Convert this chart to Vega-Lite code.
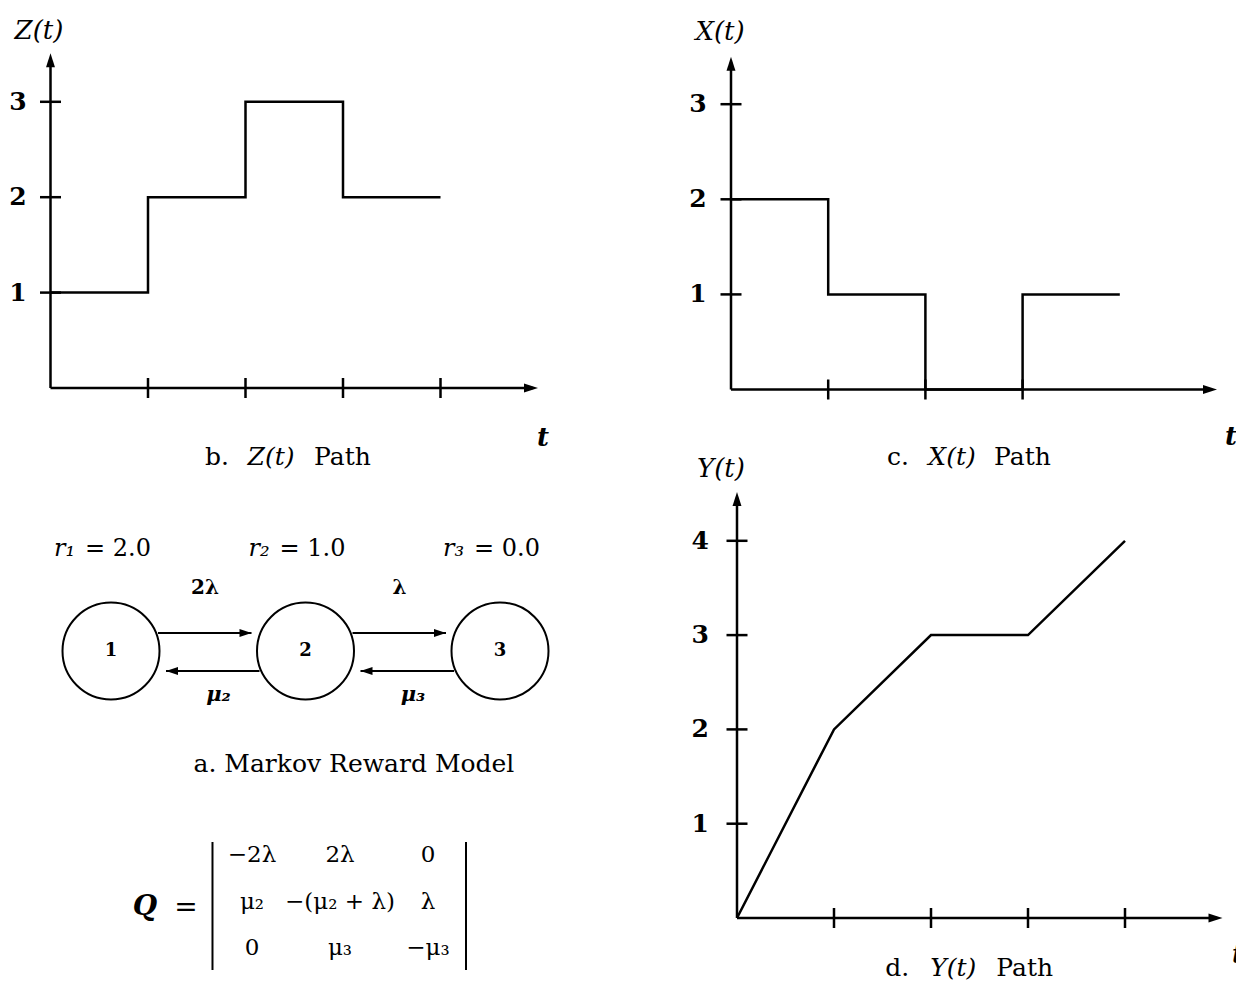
{
"$schema": "https://vega.github.io/schema/vega-lite/v6.json",
"width": 1236, "height": 985,
"autosize": {"type": "none"},
"padding": 0,
"background": "white",
"config": {"view": {"stroke": null}, "font": "DejaVu Serif", "axis": {"disable": true}, "legend": {"disable": true}, "text": {"font": "DejaVu Serif", "color": "black"}},
"datasets": {
  "zpath": [{"t":0,"z":1},{"t":1,"z":2},{"t":2,"z":3},{"t":3,"z":2},{"t":4,"z":2}],
  "xpath": [{"t":0,"x":2},{"t":1,"x":1},{"t":2,"x":0},{"t":3,"x":1},{"t":4,"x":1}],
  "ypath": [{"t":0,"y":0},{"t":1,"y":2},{"t":2,"y":3},{"t":3,"y":3},{"t":4,"y":4}],
  "nodes": [{"n":1,"rsym":"r₁","rval":"= 2.0"},{"n":2,"rsym":"r₂","rval":"= 1.0"},{"n":3,"rsym":"r₃","rval":"= 0.0"}],
  "edges": [{"from":1,"to":2,"rate":"2λ","dir":"fwd"},{"from":2,"to":3,"rate":"λ","dir":"fwd"},{"from":2,"to":1,"rate":"μ₂","dir":"back"},{"from":3,"to":2,"rate":"μ₃","dir":"back"}],
  "matrix": [{"row":1,"col":1,"e":"−2λ"},{"row":1,"col":2,"e":"2λ"},{"row":1,"col":3,"e":"0"},{"row":2,"col":1,"e":"μ₂"},{"row":2,"col":2,"e":"−(μ₂ + λ)"},{"row":2,"col":3,"e":"λ"},{"row":3,"col":1,"e":"0"},{"row":3,"col":2,"e":"μ₃"},{"row":3,"col":3,"e":"−μ₃"}]
},
"layer": [
 {"layer": [
  {"data": {"values": [{}]}, "mark": {"type": "rule", "color": "black", "strokeWidth": 2.5},
   "encoding": {"x": {"datum": 0, "type": "quantitative", "scale": {"domain":[0,5],"range":[50.5,538],"nice":false,"zero":false}}, "y": {"datum": 0, "type": "quantitative", "scale": {"domain":[0,3.5],"range":[388,54.1],"nice":false,"zero":false}}, "y2": {"datum": 3.45}}},
  {"data": {"values": [{}]}, "mark": {"type": "rule", "color": "black", "strokeWidth": 2.5},
   "encoding": {"x": {"datum": 0, "type": "quantitative", "scale": {"domain":[0,5],"range":[50.5,538],"nice":false,"zero":false}}, "x2": {"datum": 4.95}, "y": {"datum": 0, "type": "quantitative", "scale": {"domain":[0,3.5],"range":[388,54.1],"nice":false,"zero":false}}}},
  {"data": {"values": [{}]}, "mark": {"type": "point", "shape": "M0,0L0.32,1L-0.32,1Z", "size": 784, "filled": true, "color": "black", "opacity": 1, "strokeWidth": 0},
   "encoding": {"x": {"datum": 0, "type": "quantitative", "scale": {"domain":[0,5],"range":[50.5,538],"nice":false,"zero":false}}, "y": {"datum": 3.51, "type": "quantitative", "scale": {"domain":[0,3.5],"range":[388,54.1],"nice":false,"zero":false}}}},
  {"data": {"values": [{}]}, "mark": {"type": "point", "shape": "M0,0L-1,0.32L-1,-0.32Z", "size": 784, "filled": true, "color": "black", "opacity": 1, "strokeWidth": 0},
   "encoding": {"x": {"datum": 5.0, "type": "quantitative", "scale": {"domain":[0,5],"range":[50.5,538],"nice":false,"zero":false}}, "y": {"datum": 0, "type": "quantitative", "scale": {"domain":[0,3.5],"range":[388,54.1],"nice":false,"zero":false}}}},
  {"data": {"values": [{"t":1},{"t":2},{"t":3},{"t":4}]}, "mark": {"type": "tick", "orient": "vertical", "size": 20, "thickness": 2.5, "color": "black", "opacity": 1},
   "encoding": {"x": {"field": "t", "type": "quantitative", "scale": {"domain":[0,5],"range":[50.5,538],"nice":false,"zero":false}}, "y": {"datum": 0, "type": "quantitative", "scale": {"domain":[0,3.5],"range":[388,54.1],"nice":false,"zero":false}}}},
  {"data": {"values": [{"v":1},{"v":2},{"v":3}]}, "mark": {"type": "tick", "orient": "horizontal", "size": 21, "thickness": 2.5, "color": "black", "opacity": 1},
   "encoding": {"x": {"datum": 0, "type": "quantitative", "scale": {"domain":[0,5],"range":[50.5,538],"nice":false,"zero":false}}, "y": {"field": "v", "type": "quantitative", "scale": {"domain":[0,3.5],"range":[388,54.1],"nice":false,"zero":false}}}},
  {"data": {"values": [{"v":1},{"v":2},{"v":3}]}, "mark": {"type": "text", "fontWeight": "bold", "fontSize": 25},
   "encoding": {"x": {"datum": -0.333, "type": "quantitative", "scale": {"domain":[0,5],"range":[50.5,538],"nice":false,"zero":false}}, "y": {"field": "v", "type": "quantitative", "scale": {"domain":[0,3.5],"range":[388,54.1],"nice":false,"zero":false}}, "text": {"field": "v"}}},
  {"data": {"name": "zpath"}, "mark": {"type": "line", "interpolate": "step-after", "color": "black", "strokeWidth": 2.5},
   "encoding": {"x": {"field": "t", "type": "quantitative", "scale": {"domain":[0,5],"range":[50.5,538],"nice":false,"zero":false}}, "y": {"field": "z", "type": "quantitative", "scale": {"domain":[0,3.5],"range":[388,54.1],"nice":false,"zero":false}}}},
  {"data": {"values": [{"lab":"Z(t)"}]}, "mark": {"type": "text", "fontStyle": "italic", "fontSize": 26},
   "encoding": {"x": {"datum": -0.118, "type": "quantitative", "scale": {"domain":[0,5],"range":[50.5,538],"nice":false,"zero":false}}, "y": {"datum": 3.742, "type": "quantitative", "scale": {"domain":[0,3.5],"range":[388,54.1],"nice":false,"zero":false}}, "text": {"field": "lab"}}},
  {"data": {"values": [{"lab":"t"}]}, "mark": {"type": "text", "fontStyle": "italic", "fontWeight": "bold", "fontSize": 26},
   "encoding": {"x": {"datum": 5.05, "type": "quantitative", "scale": {"domain":[0,5],"range":[50.5,538],"nice":false,"zero":false}}, "y": {"datum": -0.524, "type": "quantitative", "scale": {"domain":[0,3.5],"range":[388,54.1],"nice":false,"zero":false}}, "text": {"field": "lab"}}},
  {"data": {"values": [{"p":"b.","v":"Z(t)","s":"Path"}]}, "mark": {"type": "text", "fontSize": 25, "align": "right", "dx": -42},
   "encoding": {"x": {"datum": 2.262, "type": "quantitative", "scale": {"domain":[0,5],"range":[50.5,538],"nice":false,"zero":false}}, "y": {"datum": -0.723, "type": "quantitative", "scale": {"domain":[0,3.5],"range":[388,54.1],"nice":false,"zero":false}}, "text": {"field": "p"}}},
  {"data": {"values": [{"p":"b.","v":"Z(t)","s":"Path"}]}, "mark": {"type": "text", "fontSize": 25, "fontStyle": "italic", "align": "center"},
   "encoding": {"x": {"datum": 2.262, "type": "quantitative", "scale": {"domain":[0,5],"range":[50.5,538],"nice":false,"zero":false}}, "y": {"datum": -0.723, "type": "quantitative", "scale": {"domain":[0,3.5],"range":[388,54.1],"nice":false,"zero":false}}, "text": {"field": "v"}}},
  {"data": {"values": [{"p":"b.","v":"Z(t)","s":"Path"}]}, "mark": {"type": "text", "fontSize": 25, "align": "left", "dx": 43},
   "encoding": {"x": {"datum": 2.262, "type": "quantitative", "scale": {"domain":[0,5],"range":[50.5,538],"nice":false,"zero":false}}, "y": {"datum": -0.723, "type": "quantitative", "scale": {"domain":[0,3.5],"range":[388,54.1],"nice":false,"zero":false}}, "text": {"field": "s"}}}
 ]},
 {"layer": [
  {"data": {"values": [{}]}, "mark": {"type": "rule", "color": "black", "strokeWidth": 2.5},
   "encoding": {"x": {"datum": 0, "type": "quantitative", "scale": {"domain":[0,5],"range":[731,1217],"nice":false,"zero":false}}, "y": {"datum": 0, "type": "quantitative", "scale": {"domain":[0,3.5],"range":[389.5,56.65],"nice":false,"zero":false}}, "y2": {"datum": 3.44}}},
  {"data": {"values": [{}]}, "mark": {"type": "rule", "color": "black", "strokeWidth": 2.5},
   "encoding": {"x": {"datum": 0, "type": "quantitative", "scale": {"domain":[0,5],"range":[731,1217],"nice":false,"zero":false}}, "x2": {"datum": 4.95}, "y": {"datum": 0, "type": "quantitative", "scale": {"domain":[0,3.5],"range":[389.5,56.65],"nice":false,"zero":false}}}},
  {"data": {"values": [{}]}, "mark": {"type": "point", "shape": "M0,0L0.32,1L-0.32,1Z", "size": 784, "filled": true, "color": "black", "opacity": 1, "strokeWidth": 0},
   "encoding": {"x": {"datum": 0, "type": "quantitative", "scale": {"domain":[0,5],"range":[731,1217],"nice":false,"zero":false}}, "y": {"datum": 3.5, "type": "quantitative", "scale": {"domain":[0,3.5],"range":[389.5,56.65],"nice":false,"zero":false}}}},
  {"data": {"values": [{}]}, "mark": {"type": "point", "shape": "M0,0L-1,0.32L-1,-0.32Z", "size": 784, "filled": true, "color": "black", "opacity": 1, "strokeWidth": 0},
   "encoding": {"x": {"datum": 5.0, "type": "quantitative", "scale": {"domain":[0,5],"range":[731,1217],"nice":false,"zero":false}}, "y": {"datum": 0, "type": "quantitative", "scale": {"domain":[0,3.5],"range":[389.5,56.65],"nice":false,"zero":false}}}},
  {"data": {"values": [{"t":1},{"t":2},{"t":3}]}, "mark": {"type": "tick", "orient": "vertical", "size": 20, "thickness": 2.5, "color": "black", "opacity": 1},
   "encoding": {"x": {"field": "t", "type": "quantitative", "scale": {"domain":[0,5],"range":[731,1217],"nice":false,"zero":false}}, "y": {"datum": 0, "type": "quantitative", "scale": {"domain":[0,3.5],"range":[389.5,56.65],"nice":false,"zero":false}}}},
  {"data": {"values": [{"v":1},{"v":2},{"v":3}]}, "mark": {"type": "tick", "orient": "horizontal", "size": 21, "thickness": 2.5, "color": "black", "opacity": 1},
   "encoding": {"x": {"datum": 0, "type": "quantitative", "scale": {"domain":[0,5],"range":[731,1217],"nice":false,"zero":false}}, "y": {"field": "v", "type": "quantitative", "scale": {"domain":[0,3.5],"range":[389.5,56.65],"nice":false,"zero":false}}}},
  {"data": {"values": [{"v":1},{"v":2},{"v":3}]}, "mark": {"type": "text", "fontWeight": "bold", "fontSize": 25},
   "encoding": {"x": {"datum": -0.34, "type": "quantitative", "scale": {"domain":[0,5],"range":[731,1217],"nice":false,"zero":false}}, "y": {"field": "v", "type": "quantitative", "scale": {"domain":[0,3.5],"range":[389.5,56.65],"nice":false,"zero":false}}, "text": {"field": "v"}}},
  {"data": {"name": "xpath"}, "mark": {"type": "line", "interpolate": "step-after", "color": "black", "strokeWidth": 2.5},
   "encoding": {"x": {"field": "t", "type": "quantitative", "scale": {"domain":[0,5],"range":[731,1217],"nice":false,"zero":false}}, "y": {"field": "x", "type": "quantitative", "scale": {"domain":[0,3.5],"range":[389.5,56.65],"nice":false,"zero":false}}}},
  {"data": {"values": [{"lab":"X(t)"}]}, "mark": {"type": "text", "fontStyle": "italic", "fontSize": 26},
   "encoding": {"x": {"datum": -0.113, "type": "quantitative", "scale": {"domain":[0,5],"range":[731,1217],"nice":false,"zero":false}}, "y": {"datum": 3.76, "type": "quantitative", "scale": {"domain":[0,3.5],"range":[389.5,56.65],"nice":false,"zero":false}}, "text": {"field": "lab"}}},
  {"data": {"values": [{"lab":"t"}]}, "mark": {"type": "text", "fontStyle": "italic", "fontWeight": "bold", "fontSize": 26},
   "encoding": {"x": {"datum": 5.144, "type": "quantitative", "scale": {"domain":[0,5],"range":[731,1217],"nice":false,"zero":false}}, "y": {"datum": -0.5, "type": "quantitative", "scale": {"domain":[0,3.5],"range":[389.5,56.65],"nice":false,"zero":false}}, "text": {"field": "lab"}}},
  {"data": {"values": [{"p":"c.","v":"X(t)","s":"Path"}]}, "mark": {"type": "text", "fontSize": 25, "align": "right", "dx": -43},
   "encoding": {"x": {"datum": 2.274, "type": "quantitative", "scale": {"domain":[0,5],"range":[731,1217],"nice":false,"zero":false}}, "y": {"datum": -0.71, "type": "quantitative", "scale": {"domain":[0,3.5],"range":[389.5,56.65],"nice":false,"zero":false}}, "text": {"field": "p"}}},
  {"data": {"values": [{"p":"c.","v":"X(t)","s":"Path"}]}, "mark": {"type": "text", "fontSize": 25, "fontStyle": "italic", "align": "center"},
   "encoding": {"x": {"datum": 2.274, "type": "quantitative", "scale": {"domain":[0,5],"range":[731,1217],"nice":false,"zero":false}}, "y": {"datum": -0.71, "type": "quantitative", "scale": {"domain":[0,3.5],"range":[389.5,56.65],"nice":false,"zero":false}}, "text": {"field": "v"}}},
  {"data": {"values": [{"p":"c.","v":"X(t)","s":"Path"}]}, "mark": {"type": "text", "fontSize": 25, "align": "left", "dx": 42},
   "encoding": {"x": {"datum": 2.274, "type": "quantitative", "scale": {"domain":[0,5],"range":[731,1217],"nice":false,"zero":false}}, "y": {"datum": -0.71, "type": "quantitative", "scale": {"domain":[0,3.5],"range":[389.5,56.65],"nice":false,"zero":false}}, "text": {"field": "s"}}}
 ]},
 {"layer": [
  {"data": {"values": [{}]}, "mark": {"type": "rule", "color": "black", "strokeWidth": 2.5},
   "encoding": {"x": {"datum": 0, "type": "quantitative", "scale": {"domain":[0,5],"range":[737,1222],"nice":false,"zero":false}}, "y": {"datum": 0, "type": "quantitative", "scale": {"domain":[0,4.5],"range":[918,493.65],"nice":false,"zero":false}}, "y2": {"datum": 4.45}}},
  {"data": {"values": [{}]}, "mark": {"type": "rule", "color": "black", "strokeWidth": 2.5},
   "encoding": {"x": {"datum": 0, "type": "quantitative", "scale": {"domain":[0,5],"range":[737,1222],"nice":false,"zero":false}}, "x2": {"datum": 4.95}, "y": {"datum": 0, "type": "quantitative", "scale": {"domain":[0,4.5],"range":[918,493.65],"nice":false,"zero":false}}}},
  {"data": {"values": [{}]}, "mark": {"type": "point", "shape": "M0,0L0.32,1L-0.32,1Z", "size": 784, "filled": true, "color": "black", "opacity": 1, "strokeWidth": 0},
   "encoding": {"x": {"datum": 0, "type": "quantitative", "scale": {"domain":[0,5],"range":[737,1222],"nice":false,"zero":false}}, "y": {"datum": 4.517, "type": "quantitative", "scale": {"domain":[0,4.5],"range":[918,493.65],"nice":false,"zero":false}}}},
  {"data": {"values": [{}]}, "mark": {"type": "point", "shape": "M0,0L-1,0.32L-1,-0.32Z", "size": 784, "filled": true, "color": "black", "opacity": 1, "strokeWidth": 0},
   "encoding": {"x": {"datum": 5.005, "type": "quantitative", "scale": {"domain":[0,5],"range":[737,1222],"nice":false,"zero":false}}, "y": {"datum": 0, "type": "quantitative", "scale": {"domain":[0,4.5],"range":[918,493.65],"nice":false,"zero":false}}}},
  {"data": {"values": [{"t":1},{"t":2},{"t":3},{"t":4}]}, "mark": {"type": "tick", "orient": "vertical", "size": 20, "thickness": 2.5, "color": "black", "opacity": 1},
   "encoding": {"x": {"field": "t", "type": "quantitative", "scale": {"domain":[0,5],"range":[737,1222],"nice":false,"zero":false}}, "y": {"datum": 0, "type": "quantitative", "scale": {"domain":[0,4.5],"range":[918,493.65],"nice":false,"zero":false}}}},
  {"data": {"values": [{"v":1},{"v":2},{"v":3},{"v":4}]}, "mark": {"type": "tick", "orient": "horizontal", "size": 21, "thickness": 2.5, "color": "black", "opacity": 1},
   "encoding": {"x": {"datum": 0, "type": "quantitative", "scale": {"domain":[0,5],"range":[737,1222],"nice":false,"zero":false}}, "y": {"field": "v", "type": "quantitative", "scale": {"domain":[0,4.5],"range":[918,493.65],"nice":false,"zero":false}}}},
  {"data": {"values": [{"v":1},{"v":2},{"v":3},{"v":4}]}, "mark": {"type": "text", "fontWeight": "bold", "fontSize": 25},
   "encoding": {"x": {"datum": -0.38, "type": "quantitative", "scale": {"domain":[0,5],"range":[737,1222],"nice":false,"zero":false}}, "y": {"field": "v", "type": "quantitative", "scale": {"domain":[0,4.5],"range":[918,493.65],"nice":false,"zero":false}}, "text": {"field": "v"}}},
  {"data": {"name": "ypath"}, "mark": {"type": "line", "color": "black", "strokeWidth": 2.5},
   "encoding": {"x": {"field": "t", "type": "quantitative", "scale": {"domain":[0,5],"range":[737,1222],"nice":false,"zero":false}}, "y": {"field": "y", "type": "quantitative", "scale": {"domain":[0,4.5],"range":[918,493.65],"nice":false,"zero":false}}}},
  {"data": {"values": [{"lab":"Y(t)"}]}, "mark": {"type": "text", "fontStyle": "italic", "fontSize": 26},
   "encoding": {"x": {"datum": -0.165, "type": "quantitative", "scale": {"domain":[0,5],"range":[737,1222],"nice":false,"zero":false}}, "y": {"datum": 4.76, "type": "quantitative", "scale": {"domain":[0,4.5],"range":[918,493.65],"nice":false,"zero":false}}, "text": {"field": "lab"}}},
  {"data": {"values": [{"lab":"t"}]}, "mark": {"type": "text", "fontStyle": "italic", "fontWeight": "bold", "fontSize": 26},
   "encoding": {"x": {"datum": 5.165, "type": "quantitative", "scale": {"domain":[0,5],"range":[737,1222],"nice":false,"zero":false}}, "y": {"datum": -0.39, "type": "quantitative", "scale": {"domain":[0,4.5],"range":[918,493.65],"nice":false,"zero":false}}, "text": {"field": "lab"}}},
  {"data": {"values": [{"p":"d.","v":"Y(t)","s":"Path"}]}, "mark": {"type": "text", "fontSize": 25, "align": "right", "dx": -44},
   "encoding": {"x": {"datum": 2.23, "type": "quantitative", "scale": {"domain":[0,5],"range":[737,1222],"nice":false,"zero":false}}, "y": {"datum": -0.53, "type": "quantitative", "scale": {"domain":[0,4.5],"range":[918,493.65],"nice":false,"zero":false}}, "text": {"field": "p"}}},
  {"data": {"values": [{"p":"d.","v":"Y(t)","s":"Path"}]}, "mark": {"type": "text", "fontSize": 25, "fontStyle": "italic", "align": "center"},
   "encoding": {"x": {"datum": 2.23, "type": "quantitative", "scale": {"domain":[0,5],"range":[737,1222],"nice":false,"zero":false}}, "y": {"datum": -0.53, "type": "quantitative", "scale": {"domain":[0,4.5],"range":[918,493.65],"nice":false,"zero":false}}, "text": {"field": "v"}}},
  {"data": {"values": [{"p":"d.","v":"Y(t)","s":"Path"}]}, "mark": {"type": "text", "fontSize": 25, "align": "left", "dx": 43},
   "encoding": {"x": {"datum": 2.23, "type": "quantitative", "scale": {"domain":[0,5],"range":[737,1222],"nice":false,"zero":false}}, "y": {"datum": -0.53, "type": "quantitative", "scale": {"domain":[0,4.5],"range":[918,493.65],"nice":false,"zero":false}}, "text": {"field": "s"}}}
 ]},
 {"layer": [
  {"data": {"name": "nodes"}, "mark": {"type": "point", "shape": "circle", "size": 9409, "filled": false, "color": "black", "strokeWidth": 2, "opacity": 1},
   "encoding": {"x": {"field": "n", "type": "quantitative", "scale": {"domain":[1,3],"range":[111,500],"nice":false,"zero":false}}, "y": {"datum": 0, "type": "quantitative", "scale": {"domain":[-1,1],"range":[751,551],"nice":false,"zero":false}}}},
  {"data": {"name": "nodes"}, "mark": {"type": "text", "fontWeight": "bold", "fontSize": 18},
   "encoding": {"x": {"field": "n", "type": "quantitative", "scale": {"domain":[1,3],"range":[111,500],"nice":false,"zero":false}}, "y": {"datum": 0, "type": "quantitative", "scale": {"domain":[-1,1],"range":[751,551],"nice":false,"zero":false}}, "text": {"field": "n"}}},
  {"data": {"name": "nodes"}, "mark": {"type": "text", "fontStyle": "italic", "fontSize": 24, "align": "right", "dx": -36},
   "encoding": {"x": {"field": "n", "type": "quantitative", "scale": {"domain":[1,3],"range":[111,500],"nice":false,"zero":false}}, "y": {"datum": 1.02, "type": "quantitative", "scale": {"domain":[-1,1],"range":[751,551],"nice":false,"zero":false}}, "text": {"field": "rsym"}}},
  {"data": {"name": "nodes"}, "mark": {"type": "text", "fontSize": 24, "align": "left", "dx": -26},
   "encoding": {"x": {"field": "n", "type": "quantitative", "scale": {"domain":[1,3],"range":[111,500],"nice":false,"zero":false}}, "y": {"datum": 1.02, "type": "quantitative", "scale": {"domain":[-1,1],"range":[751,551],"nice":false,"zero":false}}, "text": {"field": "rval"}}},
  {"data": {"name": "edges"}, "transform": [{"filter": "datum.dir == 'fwd'"}], "mark": {"type": "rule", "color": "black", "strokeWidth": 2, "xOffset": 47, "x2Offset": -54, "yOffset": -18},
   "encoding": {"x": {"field": "from", "type": "quantitative", "scale": {"domain":[1,3],"range":[111,500],"nice":false,"zero":false}}, "x2": {"field": "to"}, "y": {"datum": 0, "type": "quantitative", "scale": {"domain":[-1,1],"range":[751,551],"nice":false,"zero":false}}}},
  {"data": {"name": "edges"}, "transform": [{"filter": "datum.dir == 'fwd'"}], "mark": {"type": "point", "shape": "M0,0L-1,0.33L-1,-0.33Z", "size": 576, "filled": true, "color": "black", "opacity": 1, "strokeWidth": 0, "xOffset": -54, "yOffset": -18},
   "encoding": {"x": {"field": "to", "type": "quantitative", "scale": {"domain":[1,3],"range":[111,500],"nice":false,"zero":false}}, "y": {"datum": 0, "type": "quantitative", "scale": {"domain":[-1,1],"range":[751,551],"nice":false,"zero":false}}}},
  {"data": {"name": "edges"}, "transform": [{"filter": "datum.dir == 'back'"}], "mark": {"type": "rule", "color": "black", "strokeWidth": 2, "xOffset": -46, "x2Offset": 55, "yOffset": 20},
   "encoding": {"x": {"field": "from", "type": "quantitative", "scale": {"domain":[1,3],"range":[111,500],"nice":false,"zero":false}}, "x2": {"field": "to"}, "y": {"datum": 0, "type": "quantitative", "scale": {"domain":[-1,1],"range":[751,551],"nice":false,"zero":false}}}},
  {"data": {"name": "edges"}, "transform": [{"filter": "datum.dir == 'back'"}], "mark": {"type": "point", "shape": "M0,0L1,0.33L1,-0.33Z", "size": 576, "filled": true, "color": "black", "opacity": 1, "strokeWidth": 0, "xOffset": 55, "yOffset": 20},
   "encoding": {"x": {"field": "to", "type": "quantitative", "scale": {"domain":[1,3],"range":[111,500],"nice":false,"zero":false}}, "y": {"datum": 0, "type": "quantitative", "scale": {"domain":[-1,1],"range":[751,551],"nice":false,"zero":false}}}},
  {"data": {"name": "edges"}, "transform": [{"filter": "datum.dir == 'fwd'"}], "mark": {"type": "text", "fontWeight": "bold", "fontSize": 20, "xOffset": 94, "yOffset": -63},
   "encoding": {"x": {"field": "from", "type": "quantitative", "scale": {"domain":[1,3],"range":[111,500],"nice":false,"zero":false}}, "y": {"datum": 0, "type": "quantitative", "scale": {"domain":[-1,1],"range":[751,551],"nice":false,"zero":false}}, "text": {"field": "rate"}}},
  {"data": {"name": "edges"}, "transform": [{"filter": "datum.dir == 'back'"}], "mark": {"type": "text", "fontWeight": "bold", "fontStyle": "italic", "fontSize": 21, "xOffset": -87, "yOffset": 44},
   "encoding": {"x": {"field": "from", "type": "quantitative", "scale": {"domain":[1,3],"range":[111,500],"nice":false,"zero":false}}, "y": {"datum": 0, "type": "quantitative", "scale": {"domain":[-1,1],"range":[751,551],"nice":false,"zero":false}}, "text": {"field": "rate"}}},
  {"data": {"values": [{"cap":"a. Markov Reward Model"}]}, "mark": {"type": "text", "fontSize": 25},
   "encoding": {"x": {"datum": 2.249, "type": "quantitative", "scale": {"domain":[1,3],"range":[111,500],"nice":false,"zero":false}}, "y": {"datum": -1.13, "type": "quantitative", "scale": {"domain":[-1,1],"range":[751,551],"nice":false,"zero":false}}, "text": {"field": "cap"}}}
 ]},
 {"layer": [
  {"data": {"name": "matrix"}, "mark": {"type": "text", "fontSize": 23},
   "encoding": {"x": {"field": "col", "type": "quantitative", "scale": {"domain":[1,3],"range":[252,428],"nice":false,"zero":false}}, "y": {"field": "row", "type": "quantitative", "scale": {"domain":[1,3],"range":[855,948],"nice":false,"zero":false}}, "text": {"field": "e"}}},
  {"data": {"values": [{}]}, "mark": {"type": "rule", "color": "black", "strokeWidth": 2},
   "encoding": {"x": {"datum": 0.551, "type": "quantitative", "scale": {"domain":[1,3],"range":[252,428],"nice":false,"zero":false}}, "y": {"datum": 0.72, "type": "quantitative", "scale": {"domain":[1,3],"range":[855,948],"nice":false,"zero":false}}, "y2": {"datum": 3.473}}},
  {"data": {"values": [{}]}, "mark": {"type": "rule", "color": "black", "strokeWidth": 2},
   "encoding": {"x": {"datum": 3.432, "type": "quantitative", "scale": {"domain":[1,3],"range":[252,428],"nice":false,"zero":false}}, "y": {"datum": 0.72, "type": "quantitative", "scale": {"domain":[1,3],"range":[855,948],"nice":false,"zero":false}}, "y2": {"datum": 3.473}}},
  {"data": {"values": [{"q":"Q","eq":"="}]}, "mark": {"type": "text", "fontSize": 28, "fontStyle": "italic", "fontWeight": "bold"},
   "encoding": {"x": {"datum": -0.216, "type": "quantitative", "scale": {"domain":[1,3],"range":[252,428],"nice":false,"zero":false}}, "y": {"datum": 2.12, "type": "quantitative", "scale": {"domain":[1,3],"range":[855,948],"nice":false,"zero":false}}, "text": {"field": "q"}}},
  {"data": {"values": [{"q":"Q","eq":"="}]}, "mark": {"type": "text", "fontSize": 28},
   "encoding": {"x": {"datum": 0.25, "type": "quantitative", "scale": {"domain":[1,3],"range":[252,428],"nice":false,"zero":false}}, "y": {"datum": 2.15, "type": "quantitative", "scale": {"domain":[1,3],"range":[855,948],"nice":false,"zero":false}}, "text": {"field": "eq"}}}
 ]}
],
"resolve": {"scale": {"x": "independent", "y": "independent"}}
}
